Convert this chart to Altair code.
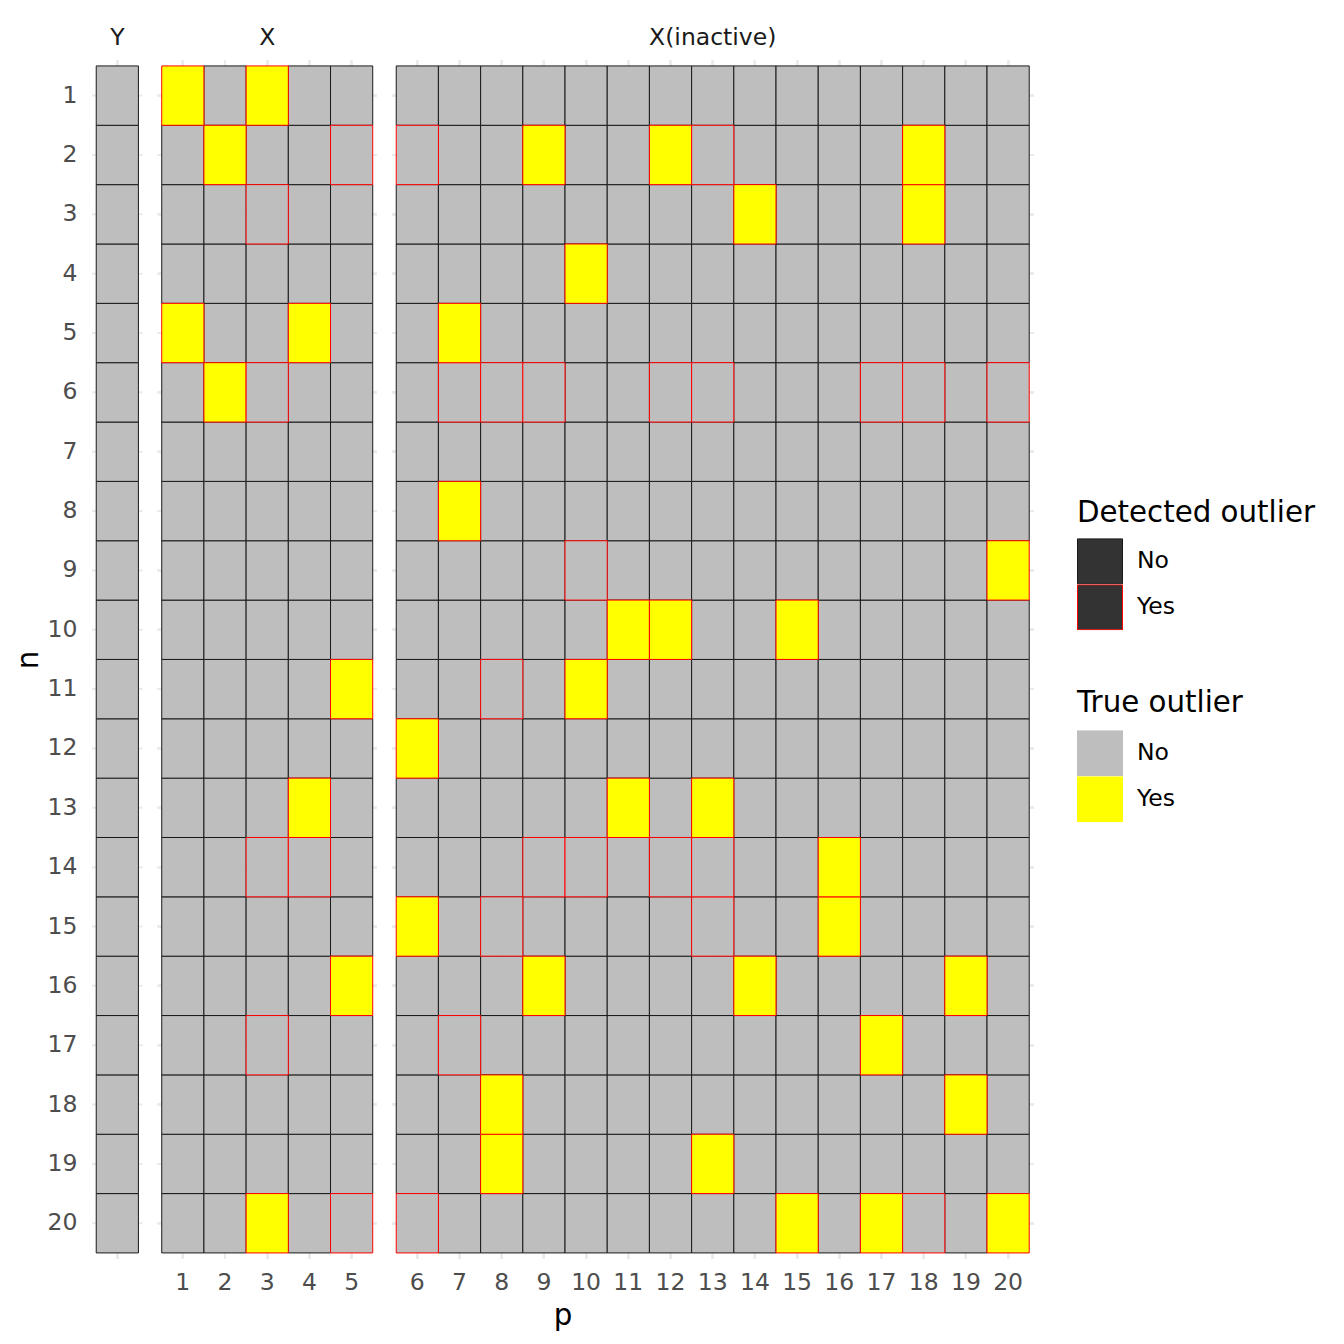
import altair as alt
import pandas as pd

# ---- data ----
panels = ["Y", "X", "X(inactive)"]
n_rows = list(range(1, 21))
p_y = [0]                      # the single response column (no tick label)
p_active = [1, 2, 3, 4, 5]
p_inactive = list(range(6, 21))

# true outliers (yellow cells): row n, column p
true_n = [1, 1, 2, 2, 2, 2, 3, 3, 4, 5, 5, 5, 6, 8, 9, 10, 10, 10, 11, 11,
          12, 13, 13, 13, 14, 15, 15, 16, 16, 16, 16, 17, 18, 18, 19, 19,
          20, 20, 20, 20]
true_p = [1, 3, 2, 9, 12, 18, 14, 18, 10, 1, 4, 7, 2, 7, 20, 11, 12, 15, 5, 10,
          6, 4, 11, 13, 16, 6, 16, 5, 9, 14, 19, 17, 8, 19, 8, 13,
          3, 15, 17, 20]

# detected but not true outliers (grey cells with red border)
fp_n = [2, 2, 2, 3, 6, 6, 6, 6, 6, 6, 6, 6, 6, 9, 11, 14, 14, 14, 14, 14, 14,
        15, 15, 17, 17, 20, 20, 20]
fp_p = [5, 6, 13, 3, 3, 7, 8, 9, 12, 13, 17, 18, 20, 10, 8, 3, 4, 9, 10, 12, 13,
        8, 13, 3, 7, 5, 6, 18]

true_set = set(zip(true_n, true_p))
fp_set = set(zip(fp_n, fp_p))

records = []
for p in p_y + p_active + p_inactive:
    panel = "Y" if p == 0 else ("X" if p <= 5 else "X(inactive)")
    for n in n_rows:
        t = (n, p) in true_set
        d = t or ((n, p) in fp_set)
        records.append({"p": p, "n": n, "panel": panel,
                        "true": "T_yes" if t else "T_no",
                        "det": "Yes" if d else "No"})
df = pd.DataFrame(records)
# draw detected cells last so their red outline is on top
df["k"] = (df["det"] == "Yes").astype(int)
df = df.sort_values(["k", "p", "n"], ascending=[True, True, False]).drop(columns="k")

FONT = "DejaVu Sans"
GRID = "#EBEBEB"

x_enc = alt.X("p:O",
              scale=alt.Scale(paddingInner=0, paddingOuter=0.1),
              axis=alt.Axis(title=None, ticks=False, domain=False, grid=False,
                            labelExpr="datum.value == 0 ? '' : datum.label",
                            labelAngle=0, labelFontSize=23.5, labelColor="#4D4D4D",
                            labelPadding=12))
y_enc = alt.Y("n:O",
              scale=alt.Scale(paddingInner=0, paddingOuter=0.1),
              axis=alt.Axis(title="n", ticks=False, domain=False, grid=False,
                            labelFontSize=23.5, labelColor="#4D4D4D",
                            labelPadding=14,
                            titleFontSize=29.3, titleFontWeight="normal",
                            titleColor="#000000", titlePadding=4))

grid_v = alt.Chart().mark_rule(color=GRID, strokeWidth=2).encode(x=x_enc)
grid_h = alt.Chart().mark_rule(color=GRID, strokeWidth=2).encode(y=y_enc)

tiles = alt.Chart().mark_rect(strokeWidth=1).encode(
    x=x_enc,
    y=y_enc,
    fill=alt.Fill("true:N",
                  scale=alt.Scale(domain=["T_no", "T_yes"], range=["#BEBEBE", "#FFFF00"]),
                  legend=alt.Legend(title="True outlier", orient="none",
                                    legendX=985, legendY=629,
                                    labelExpr="datum.value == 'T_yes' ? 'Yes' : 'No'",
                                    symbolType="square", symbolSize=2116,
                                    symbolStrokeWidth=0, rowPadding=0, clipHeight=46,
                                    labelOffset=14, titlePadding=12, titleLimit=600,
                                    titleFontSize=29.3, titleFontWeight="normal",
                                    titleColor="#000000", labelFontSize=23.5,
                                    labelColor="#000000")),
    stroke=alt.Stroke("det:N",
                      scale=alt.Scale(domain=["No", "Yes"], range=["#1A1A1A", "#FF0000"]),
                      legend=alt.Legend(title="Detected outlier", orient="none",
                                        legendX=985, legendY=439,
                                        symbolType="square", symbolSize=2025,
                                        symbolFillColor="#333333",
                                        symbolStrokeWidth=1, rowPadding=0, clipHeight=46,
                                        labelOffset=14, titlePadding=10, titleLimit=600,
                                        titleFontSize=29.3, titleFontWeight="normal",
                                        titleColor="#000000", labelFontSize=23.5,
                                        labelColor="#000000")),
)

layered = alt.layer(grid_v, grid_h, tiles, data=df).properties(
    width=alt.Step(42.2), height=alt.Step(59.35))

chart = layered.facet(
    column=alt.Column("panel:N", sort=panels,
                      header=alt.Header(title="p", titleOrient="bottom",
                                        labelOrient="top", labelFontSize=23.5,
                                        labelColor="#1A1A1A", labelPadding=10,
                                        titleFontSize=29.3, titleFontWeight="normal",
                                        titleColor="#000000", titlePadding=-3)),
    spacing=12.5,
).resolve_scale(x="independent").configure(
    font=FONT
).configure_view(stroke=None).properties(padding={"left": 14, "top": 25, "right": 5, "bottom": 5})

chart.save("out.html", embed_options={"renderer": "svg", "actions": False})
